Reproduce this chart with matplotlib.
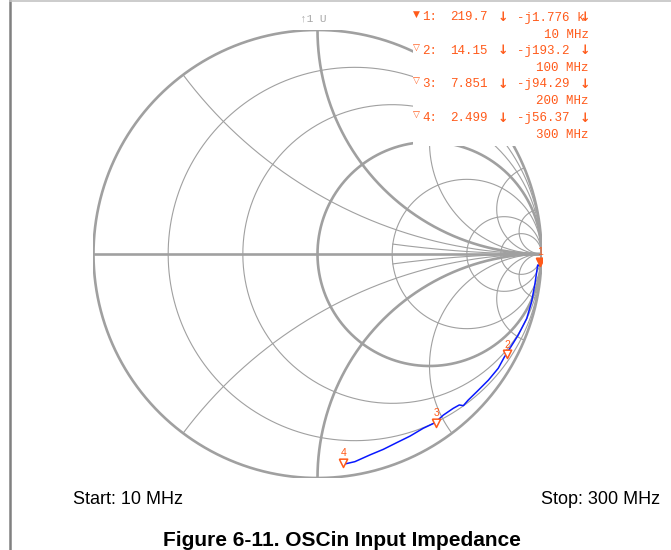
import numpy as np
import matplotlib
matplotlib.use('Agg')
import matplotlib.pyplot as plt
from matplotlib.lines import Line2D
from matplotlib.patches import Rectangle

# marker readout (50 ohm system)
marker_ids = ['1', '2', '3', '4']
marker_r = [219.7, 14.15, 7.851, 2.499]
marker_x = [-1776.0, -193.2, -94.29, -56.37]
marker_r_text = ['219.7', '14.15', '7.851', '2.499']
marker_x_text = ['-j1.776 k', '-j193.2', '-j94.29', '-j56.37']
marker_freq = ['10 MHz', '100 MHz', '200 MHz', '300 MHz']
z0 = 50.0

trace_re = [0.988, 0.983, 0.971, 0.956, 0.934, 0.896, 0.859, 0.833, 0.807, 0.763,
            0.711, 0.673, 0.651, 0.633, 0.606, 0.562, 0.525, 0.472, 0.413, 0.354,
            0.294, 0.234, 0.167, 0.115]
trace_im = [-0.052, -0.049, -0.131, -0.213, -0.288, -0.362, -0.421, -0.462, -0.510, -0.563,
            -0.615, -0.652, -0.677, -0.674, -0.689, -0.719, -0.753, -0.778, -0.813, -0.842,
            -0.872, -0.897, -0.927, -0.939]

# smith grid
r_circles = [0.2, 0.5, 1, 2, 5, 10]
x_arcs = [0.2, 0.5, 1, 2, 5, 10]

W, H = 671, 550
grid_col = '#a0a0a0'
mk_col = '#ff5a1a'

fig = plt.figure(figsize=(W / 100, H / 100), dpi=100)
fig.patch.set_facecolor('white')


def fpos(x, y):
    # pixel position -> figure fraction
    return x / W, 1 - y / H


ax = fig.add_axes([93.5 / W, (H - 478) / H, 448 / W, 448 / H])
ax.set_xlim(-1, 1)
ax.set_ylim(-1, 1)
ax.axis('off')

# constant resistance circles
t = np.linspace(0, 2 * np.pi, 600)
ax.plot(np.cos(t), np.sin(t), color=grid_col, lw=1.9)
for r in r_circles:
    c = r / (1 + r)
    rad = 1 / (1 + r)
    ax.plot(c + rad * np.cos(t), rad * np.sin(t), color=grid_col,
            lw=1.9 if r == 1 else 0.8)

# constant reactance arcs (the 0.2 arcs only start at r = 2)
for xv in x_arcs:
    r_min = 2.0 if xv == 0.2 else 0.0
    rr = r_min + np.tan(np.linspace(0, np.pi / 2 - 1e-4, 800))
    for s in (1, -1):
        z = rr + 1j * s * xv
        g = (z - 1) / (z + 1)
        ax.plot(g.real, g.imag, color=grid_col, lw=1.9 if xv == 1 else 0.8)

ax.plot([-1, 1], [0, 0], color=grid_col, lw=1.9)

# readout area covers the grid
ax.add_patch(Rectangle(fpos(413, 146), (600 - 413) / W, 146 / H,
                       transform=fig.transFigure, facecolor='white',
                       edgecolor='none', zorder=3))

# trace
ax.plot(trace_re, trace_im, color='#0818ff', lw=1.1, zorder=4)

# markers on the trace
tri = [(-0.5, 1), (0.5, 1), (0, 0), (-0.5, 1)]
for i, mid in enumerate(marker_ids):
    z = complex(marker_r[i], marker_x[i]) / z0
    g = (z - 1) / (z + 1)
    face = mk_col if i == 0 else 'white'
    ax.plot(g.real, g.imag, marker=tri, markersize=12, color=mk_col,
            markerfacecolor=face, markeredgewidth=1.1, zorder=5)
    ax.annotate(mid, (g.real, g.imag), xytext=(0.5, 10), textcoords='offset points',
                ha='center', va='center', fontsize=7.5, color=mk_col,
                family='Liberation Sans', zorder=6)

# marker readout text
mono = ['Liberation Mono', 'DejaVu Sans Mono']
for i, mid in enumerate(marker_ids):
    y = 17.5 + 33.5 * i
    sym = '\u25bc' if i == 0 else '\u25bd'
    fig.text(*fpos(416, y - 3), sym, color=mk_col, fontsize=6.5, ha='center',
             va='center', family='DejaVu Sans', zorder=10)
    fig.text(*fpos(422.5, y), mid + ':', color=mk_col, fontsize=9, ha='left',
             va='center', family=mono, zorder=10)
    fig.text(*fpos(450, y), marker_r_text[i], color=mk_col, fontsize=9, ha='left',
             va='center', family=mono, zorder=10)
    fig.text(*fpos(517, y), marker_x_text[i], color=mk_col, fontsize=9, ha='left',
             va='center', family=mono, zorder=10)
    for ax_x in (503, 585):
        fig.text(*fpos(ax_x, y), '\u2193', color=mk_col, fontsize=9, ha='center',
                 va='center', family='DejaVu Sans', fontweight='bold', zorder=10)
    fig.text(*fpos(589, y + 17), marker_freq[i], color=mk_col, fontsize=9, ha='right',
             va='center', family=mono, zorder=10)

fig.text(*fpos(300, 18), '\u21911 U', color='#a8a8a8', fontsize=8, ha='left',
         va='center', family=mono)

# start / stop and caption
fig.text(*fpos(73, 500), 'Start: 10 MHz', fontsize=13, ha='left', va='center',
         family='Liberation Sans')
fig.text(*fpos(660, 500), 'Stop: 300 MHz', fontsize=13, ha='right', va='center',
         family='Liberation Sans')
fig.text(*fpos(342, 540), 'Figure 6-11. OSCin Input Impedance', fontsize=15,
         ha='center', va='center', family='Liberation Sans', fontweight='bold')

# page frame lines
fig.add_artist(Line2D([9.5 / W, 9.5 / W], [0, 1], color='#808080', lw=1.8))
fig.add_artist(Line2D([10 / W, 1], [1 - 0.8 / H, 1 - 0.8 / H], color='#c4c4c4', lw=1.2))

fig.savefig('out.png', dpi=100)
